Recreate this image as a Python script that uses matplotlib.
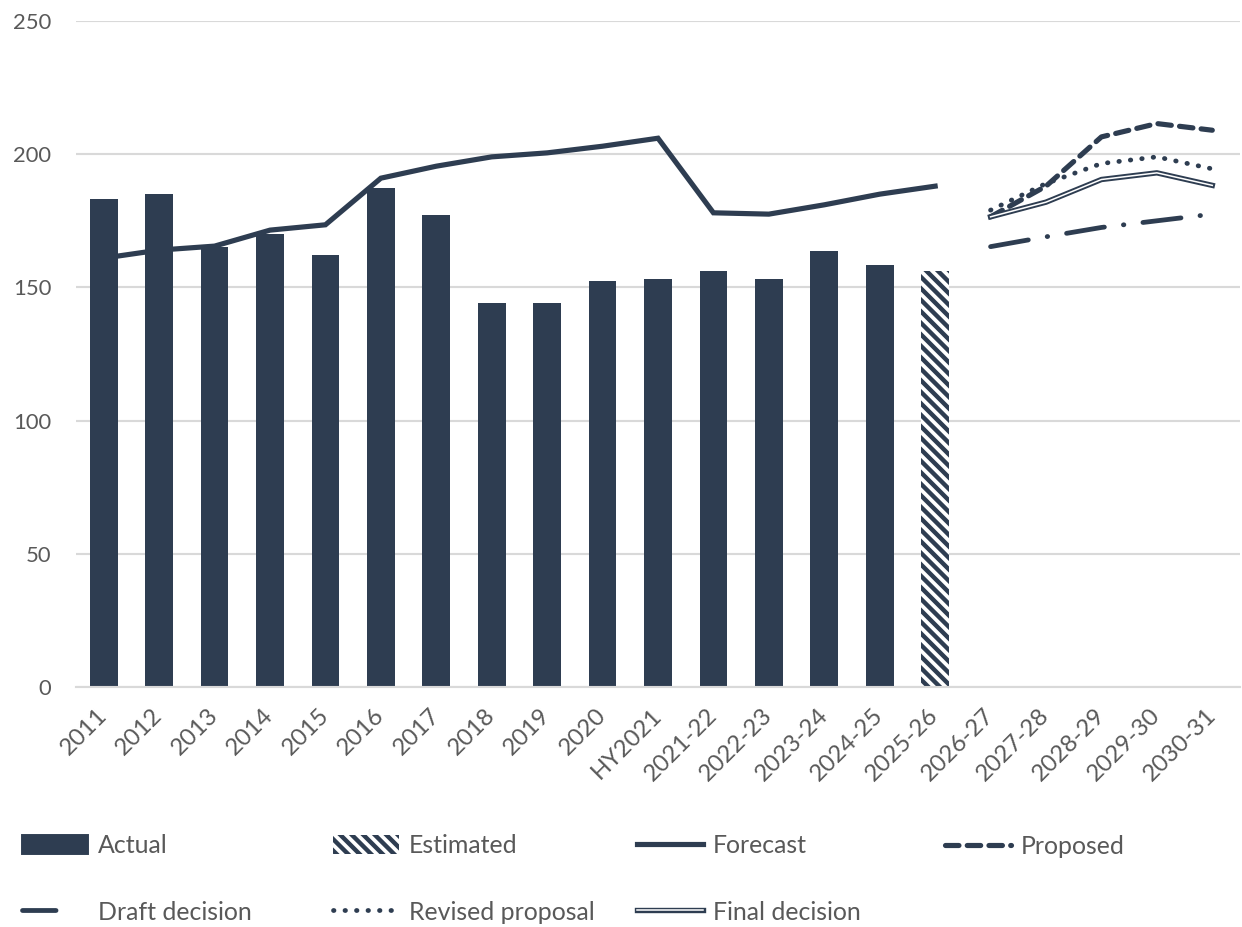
import matplotlib
matplotlib.use("Agg")
import matplotlib.pyplot as plt
import matplotlib.patheffects as pe
from matplotlib.patches import Patch
from matplotlib.lines import Line2D

# categories along the x axis
periods = ["2011", "2012", "2013", "2014", "2015", "2016", "2017", "2018", "2019", "2020",
           "HY2021", "2021-22", "2022-23", "2023-24", "2024-25", "2025-26",
           "2026-27", "2027-28", "2028-29", "2029-30", "2030-31"]

actual = [183, 185, 165, 170, 162, 187.5, 177, 144, 144, 152.5,
          153, 156, 153, 163.5, 158.5]
estimated = [156]   # 2025-26
forecast = [161, 164, 165.5, 171.5, 173.5, 191, 195.5, 199, 200.5, 203,
            206, 178, 177.5, 181, 185, 188]

# regulatory period 2026-27 .. 2030-31
proposed = [176.5, 188, 206.5, 211.5, 209]
draft_decision = [165.3, 169, 172.5, 175, 177.5]
revised_proposal = [179, 189, 196.5, 199, 194.5]
final_decision = [176.5, 182, 190.5, 193, 188.3]

navy = "#2e3d51"
grey_text = "#595959"
grid_grey = "#d9d9d9"
HATCH = "\\\\\\\\"

plt.rcParams["font.family"] = ["Lato", "DejaVu Sans"]
plt.rcParams["hatch.linewidth"] = 2.3
plt.rcParams["hatch.color"] = navy

fig = plt.figure(figsize=(9, 927 / 138), dpi=138)
ax = fig.add_axes([76 / 1242, 1 - 687 / 927, 1164 / 1242, 666 / 927])

x = list(range(len(periods)))
n_act = len(actual)
ax.bar(x[:n_act], actual, width=0.5, color=navy, zorder=2)
ax.bar(x[n_act:n_act + 1], estimated, width=0.5, facecolor="white",
       edgecolor=navy, linewidth=0, hatch=HATCH, zorder=2)

ax.plot(x[:len(forecast)], forecast, color=navy, lw=2.7, solid_joinstyle="miter", zorder=3)

fut = x[-5:]
ax.plot(fut, draft_decision, color=navy, lw=2.5, dash_capstyle="round",
        dashes=(8, 4, 0.1, 4), zorder=3)
ax.plot(fut, final_decision, color="white", lw=0.8, zorder=4,
        path_effects=[pe.Stroke(linewidth=2.8, foreground=navy), pe.Normal()])
ax.plot(fut, revised_proposal, color=navy, lw=2.5, dash_capstyle="round",
        dashes=(0.1, 2.3), zorder=3)
ax.plot(fut, proposed, color=navy, lw=2.7, dash_capstyle="round",
        dashes=(2.6, 1.6), zorder=3)

ax.set_xlim(-0.5, len(periods) - 0.5)
ax.set_ylim(0, 250)
ax.set_yticks(range(0, 251, 50))
ax.yaxis.grid(True, color=grid_grey, lw=1.1)
ax.set_axisbelow(True)
for side in ["top", "right", "left"]:
    ax.spines[side].set_visible(False)
ax.spines["bottom"].set_color(grid_grey)
ax.spines["bottom"].set_linewidth(1.1)

ax.set_xticks(x)
ax.set_xticklabels(periods, rotation=45, ha="right", va="center", rotation_mode="anchor")
ax.tick_params(axis="both", length=0, labelsize=11.5, labelcolor=grey_text)
ax.tick_params(axis="x", labelsize=12.5, pad=13)
ax.tick_params(axis="y", pad=13)

# legend handles
h_actual = Patch(facecolor=navy, edgecolor=navy)
h_est = Patch(facecolor="white", edgecolor=navy, linewidth=0, hatch=HATCH)
h_fore = Line2D([], [], color=navy, lw=2.7)
h_prop = Line2D([], [], color=navy, lw=2.7, dash_capstyle="round", dashes=(2.6, 1.6))
h_draft = Line2D([], [], color=navy, lw=2.5, dash_capstyle="round", dashes=(7, 30))
h_rev = Line2D([], [], color=navy, lw=2.5, dash_capstyle="round", dashes=(0.1, 2.3))
h_final = Line2D([], [], color="white", lw=0.8,
                 path_effects=[pe.Stroke(linewidth=2.8, foreground=navy), pe.Normal()])

columns = [
    (22, [(h_actual, "Actual"), (h_draft, "Draft decision")]),
    (333, [(h_est, "Estimated"), (h_rev, "Revised proposal")]),
    (637, [(h_fore, "Forecast"), (h_final, "Final decision")]),
    (945, [(h_prop, "Proposed")]),
]
for xpix, entries in columns:
    handles = [e[0] for e in entries]
    labels = [e[1] for e in entries]
    ypix = 847 if len(entries) == 1 else 879
    fig.legend(handles, labels, loc="center left",
               bbox_to_anchor=(xpix / 1242, 1 - ypix / 927),
               frameon=False, borderpad=0, borderaxespad=0,
               handlelength=2.65, handleheight=0.8, handletextpad=0.4,
               labelspacing=1.73, fontsize=13, labelcolor=grey_text)

fig.savefig("out.png", dpi=138)
